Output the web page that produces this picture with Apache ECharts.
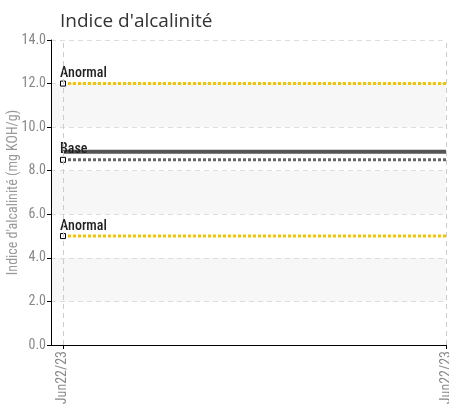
<!DOCTYPE html>
<html><head><meta charset="utf-8">
<script src="https://cdn.jsdelivr.net/npm/echarts@6/dist/echarts.min.js"></script>
<style>html,body{margin:0;padding:0;background:#fff}#c{width:449px;height:407px}</style>
</head><body><div id="c"></div>
<script>
const xPositions = [0, 1];
const xTickLabels = ['Jun22/23', 'Jun22/23'];
const yTicks = [0, 2, 4, 6, 8, 10, 12, 14];
const anormalHigh = [12.0, 12.0];
const anormalLow = [5.0, 5.0];
const baseValues = [8.5, 8.5];
const baseMean = [8.87, 8.87];

const F = '"Roboto Condensed", "Liberation Sans Narrow", "Roboto", sans-serif';
function pts(vals) { return vals.map((v, i) => [xPositions[i], v]); }
function withMarker(vals, label) {
  return vals.map((v, i) => i === 0
    ? { value: [xPositions[i], v], symbol: 'rect', symbolSize: 5,
        label: { show: true, formatter: label, position: [0, -14], color: '#222', fontFamily: F, fontSize: 14, fontWeight: 500 } }
    : { value: [xPositions[i], v], symbol: 'none' });
}
const markerStyle = { color: '#fff', borderColor: '#000', borderWidth: 1 };
const chart = echarts.init(document.getElementById('c'));
chart.setOption({
  animation: false,
  title: { text: "Indice d'alcalinité", left: 55, top: 7, textStyle: { fontFamily: '"Open Sans", sans-serif', fontSize: 19, fontWeight: 'normal', color: '#333' } },
  grid: { left: 51, top: 40, right: 3, bottom: 62, containLabel: false, outerBoundsMode: 'none' },
  xAxis: {
    type: 'value', min: -0.0313, max: 1,
    axisLine: { onZero: false, lineStyle: { color: '#000', width: 1 } },
    axisTick: { customValues: xPositions, length: 4, lineStyle: { color: '#000' } },
    axisLabel: { customValues: xPositions, rotate: 90, margin: 6, color: '#888', fontFamily: F, fontSize: 14,
      formatter: (v) => xTickLabels[xPositions.indexOf(v)] || '' },
    splitLine: { show: false }
  },
  yAxis: {
    type: 'value', min: 0, max: 14, interval: 2,
    name: "Indice d'alcalinité (mg KOH/g)", nameLocation: 'middle', nameGap: 31, nameMoveOverlap: false,
    nameTextStyle: { color: '#999', fontFamily: F, fontSize: 14 },
    axisLine: { show: true, onZero: false, lineStyle: { color: '#000' } },
    axisTick: { show: true, length: 4, lineStyle: { color: '#000' } },
    axisLabel: { color: '#888', fontFamily: F, fontSize: 14, margin: 5, formatter: v => v.toFixed(1) },
    splitLine: { lineStyle: { color: '#ddd', type: [5, 4] } },
    splitArea: { show: true, areaStyle: { color: ['#ffffff', '#f7f7f7'] } }
  },
  series: [
    { type: 'line', data: pts(baseMean), symbol: 'none', lineStyle: { color: '#555', width: 4 }, z: 2,
      markLine: { silent: true, symbol: 'none', label: { show: false },
        lineStyle: { color: '#ccc', type: [5, 4], width: 1 },
        data: xPositions.map(x => ({ xAxis: x })) } },
    { type: 'line', data: withMarker(baseValues, 'Base'), itemStyle: markerStyle, lineStyle: { color: '#666', width: 3, type: [3, 2] }, z: 3 },
    { type: 'line', data: withMarker(anormalHigh, 'Anormal'), itemStyle: markerStyle, lineStyle: { color: '#f5c400', width: 3, type: [3, 2] }, z: 3 },
    { type: 'line', data: withMarker(anormalLow, 'Anormal'), itemStyle: markerStyle, lineStyle: { color: '#f5c400', width: 3, type: [3, 2] }, z: 3 }
  ]
});
</script></body></html>
